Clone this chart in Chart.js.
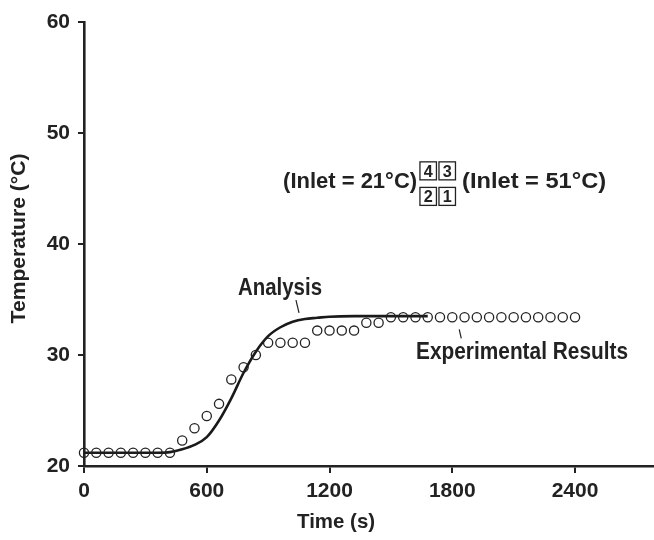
<!DOCTYPE html>
<html>
<head>
<meta charset="utf-8">
<script src="https://cdn.jsdelivr.net/npm/chart.js@4.4.1/dist/chart.umd.min.js"></script>
<style>
  html, body { margin: 0; padding: 0; background: #fff; }
  #wrap { width: 654px; height: 540px; position: relative; }
</style>
</head>
<body>
<div id="wrap"><canvas id="chart"></canvas></div>
<script>
// measured points (every 60 s)
const expTime = [0, 60, 120, 180, 240, 300, 360, 420, 480, 540, 600, 660, 720, 780, 840, 900,
  960, 1020, 1080, 1140, 1200, 1260, 1320, 1380, 1440, 1500, 1560, 1620, 1680, 1740, 1800,
  1860, 1920, 1980, 2040, 2100, 2160, 2220, 2280, 2340, 2400];
const expTemp = [21.2, 21.2, 21.2, 21.2, 21.2, 21.2, 21.2, 21.2, 22.3, 23.4, 24.5, 25.6, 27.8, 28.9, 30.0, 31.1,
  31.1, 31.1, 31.1, 32.2, 32.2, 32.2, 32.2, 32.9, 32.9, 33.4, 33.4, 33.4, 33.4, 33.4, 33.4,
  33.4, 33.4, 33.4, 33.4, 33.4, 33.4, 33.4, 33.4, 33.4, 33.4];

// analysis curve
const anaTime = [0, 120, 240, 360, 420, 480, 540, 600, 660, 720, 780, 840, 900, 960, 1020, 1080, 1140, 1200, 1320, 1440, 1560, 1680];
const anaTemp = [21.2, 21.2, 21.2, 21.2, 21.25, 21.5, 21.9, 22.6, 24.1, 26.1, 28.4, 30.3, 31.7, 32.5, 33.0, 33.25, 33.35, 33.45, 33.5, 33.5, 33.5, 33.5];

const xTicks = [0, 600, 1200, 1800, 2400];
const yTicks = [20, 30, 40, 50, 60];

const FONT = "'Liberation Sans', Arial, sans-serif";
const INK = '#222';

// bold text squeezed to a given width, like the condensed face of the original
function label(ctx, text, x, y, size, width, align, rot) {
  ctx.save();
  ctx.font = 'bold ' + size + 'px ' + FONT;
  const sx = width / ctx.measureText(text).width;
  ctx.translate(x, y);
  if (rot) ctx.rotate(rot);
  ctx.scale(sx, 1);
  ctx.textAlign = align || 'center';
  ctx.textBaseline = 'middle';
  ctx.fillText(text, 0, 0);
  ctx.restore();
}

// labels, leader lines and the small numbered boxes
const notes = {
  id: 'notes',
  afterDraw(chart) {
    const ctx = chart.ctx;
    const xs = chart.scales.x, ys = chart.scales.y;
    const px = v => xs.getPixelForValue(v), py = v => ys.getPixelForValue(v);
    ctx.save();
    ctx.fillStyle = INK;
    ctx.strokeStyle = INK;

    // axis titles
    label(ctx, 'Time (s)', px(1232), 522, 20.5, 78);
    label(ctx, 'Temperature (°C)', 19, py(40.5), 21, 170, 'center', -Math.PI / 2);

    // Analysis
    label(ctx, 'Analysis', px(958), py(35.95), 23, 84);
    ctx.lineWidth = 1.2;
    ctx.beginPath();
    ctx.moveTo(px(1036), py(34.95));
    ctx.lineTo(px(1051), py(33.8));
    ctx.stroke();

    // Experimental Results
    label(ctx, 'Experimental Results', px(2141), py(30.27), 24, 212);
    ctx.beginPath();
    ctx.moveTo(px(1834), py(32.3));
    ctx.lineTo(px(1844), py(31.5));
    ctx.stroke();

    // inlet legend
    label(ctx, '(Inlet = 21°C)', px(1628), py(45.55), 22, 134, 'right');
    label(ctx, '(Inlet = 51°C)', px(1848), py(45.55), 22, 144, 'left');

    const boxes = [['4', 1642, 47.4], ['3', 1735, 47.4], ['2', 1642, 45.1], ['1', 1735, 45.1]];
    ctx.lineWidth = 1.3;
    boxes.forEach(([t, bx, by]) => {
      const l = px(bx), tp = py(by), w = 16.5, h = 18;
      ctx.strokeRect(l, tp, w, h);
      label(ctx, t, l + w / 2, tp + h / 2 + 1, 17, 9);
    });
    ctx.restore();
  }
};

const tickFont = { family: FONT, size: 21, weight: 'bold' };

new Chart(document.getElementById('chart'), {
  type: 'scatter',
  data: {
    datasets: [
      {
        label: 'Analysis',
        data: anaTime.map((t, i) => ({ x: t, y: anaTemp[i] })),
        showLine: true,
        borderColor: '#1a1a1a',
        borderWidth: 2.6,
        pointRadius: 0,
        cubicInterpolationMode: 'monotone',
        clip: false,
        order: 2
      },
      {
        label: 'Experimental Results',
        data: expTime.map((t, i) => ({ x: t, y: expTemp[i] })),
        showLine: false,
        pointStyle: 'circle',
        pointRadius: 4.6,
        pointBorderWidth: 1.3,
        pointBorderColor: INK,
        pointBackgroundColor: 'rgba(0,0,0,0)',
        clip: false,
        order: 1
      }
    ]
  },
  options: {
    responsive: true,
    maintainAspectRatio: false,
    animation: false,
    layout: { autoPadding: false, padding: { top: 22, right: 0, left: 0, bottom: 0 } },
    plugins: { legend: { display: false }, tooltip: { enabled: false } },
    scales: {
      x: {
        type: 'linear',
        min: 0,
        max: 2786,
        afterBuildTicks: s => { s.ticks = xTicks.map(v => ({ value: v })); },
        afterFit: s => { s.height = 74; },
        grid: { drawOnChartArea: false, drawTicks: true, tickLength: 7, lineWidth: 2, color: INK },
        border: { display: true, width: 2.6, color: INK },
        ticks: { color: INK, padding: 6, maxRotation: 0, font: tickFont, callback: v => String(v) }
      },
      y: {
        type: 'linear',
        min: 20,
        max: 60,
        afterBuildTicks: s => { s.ticks = yTicks.map(v => ({ value: v })); },
        afterFit: s => { s.width = 84; },
        grid: { drawOnChartArea: false, drawTicks: true, tickLength: 6, lineWidth: 2, color: INK },
        border: { display: true, width: 2.6, color: INK },
        ticks: { color: INK, padding: 8, font: tickFont, callback: v => String(v) }
      }
    }
  },
  plugins: [notes]
});
</script>
</body>
</html>
